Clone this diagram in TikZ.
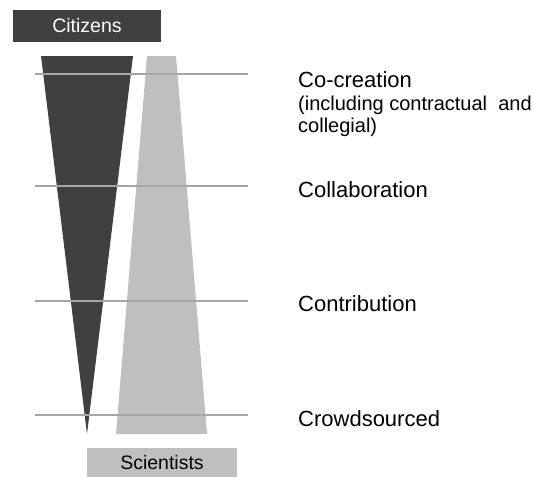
\documentclass[tikz,border=0pt]{standalone}
\usepackage{fontspec}
\setmainfont{Liberation Sans}
\definecolor{darkfill}{HTML}{404040}
\definecolor{lightfill}{HTML}{BFBFBF}
\definecolor{rule}{HTML}{A6A6A6}
\begin{document}
\begin{tikzpicture}[x=1pt,y=-1pt,
  level/.style={draw=rule,line width=1.3pt},
  lab/.style={anchor=base west,inner sep=0pt,font=\fontsize{22}{26}\selectfont},
  sublab/.style={anchor=base west,inner sep=0pt,font=\fontsize{20}{24}\selectfont},
  box/.style={inner sep=0pt,font=\fontsize{19.5}{23}\selectfont}]
\useasboundingbox (0,0) rectangle (533,477);
% boxes
\fill[darkfill] (13,10) rectangle (161,42);
\node[box,text=white] (cit) at (87,26) {Citizens};
\fill[lightfill] (87,448) rectangle (237,477);
\node[box,text=black] (sci) at (162,463) {Scientists};
% wedges
\fill[darkfill] (41,56) -- (133,56) -- (87,434) -- cycle;
\fill[lightfill] (147,56) -- (176,56) -- (207,434) -- (116,434) -- cycle;
% level lines
\coordinate (l1a) at (35,74);  \coordinate (l1b) at (248,74);
\coordinate (l2a) at (35,186); \coordinate (l2b) at (248,186);
\coordinate (l3a) at (35,301); \coordinate (l3b) at (248,301);
\coordinate (l4a) at (35,415); \coordinate (l4b) at (248,415);
\draw[level] (l1a) -- (l1b);
\draw[level] (l2a) -- (l2b);
\draw[level] (l3a) -- (l3b);
\draw[level] (l4a) -- (l4b);
% labels
\node[lab] (t1) at (298,87) {Co-creation};
\node[sublab] (t1b) at (298,110) {(including contractual\ \ and};
\node[sublab] (t1c) at (298,132) {collegial)};
\node[lab] (t2) at (298,197) {Collaboration};
\node[lab] (t3) at (298,311.5) {Contribution};
\node[lab] (t4) at (298,426) {Crowdsourced};
\end{tikzpicture}
\end{document}
